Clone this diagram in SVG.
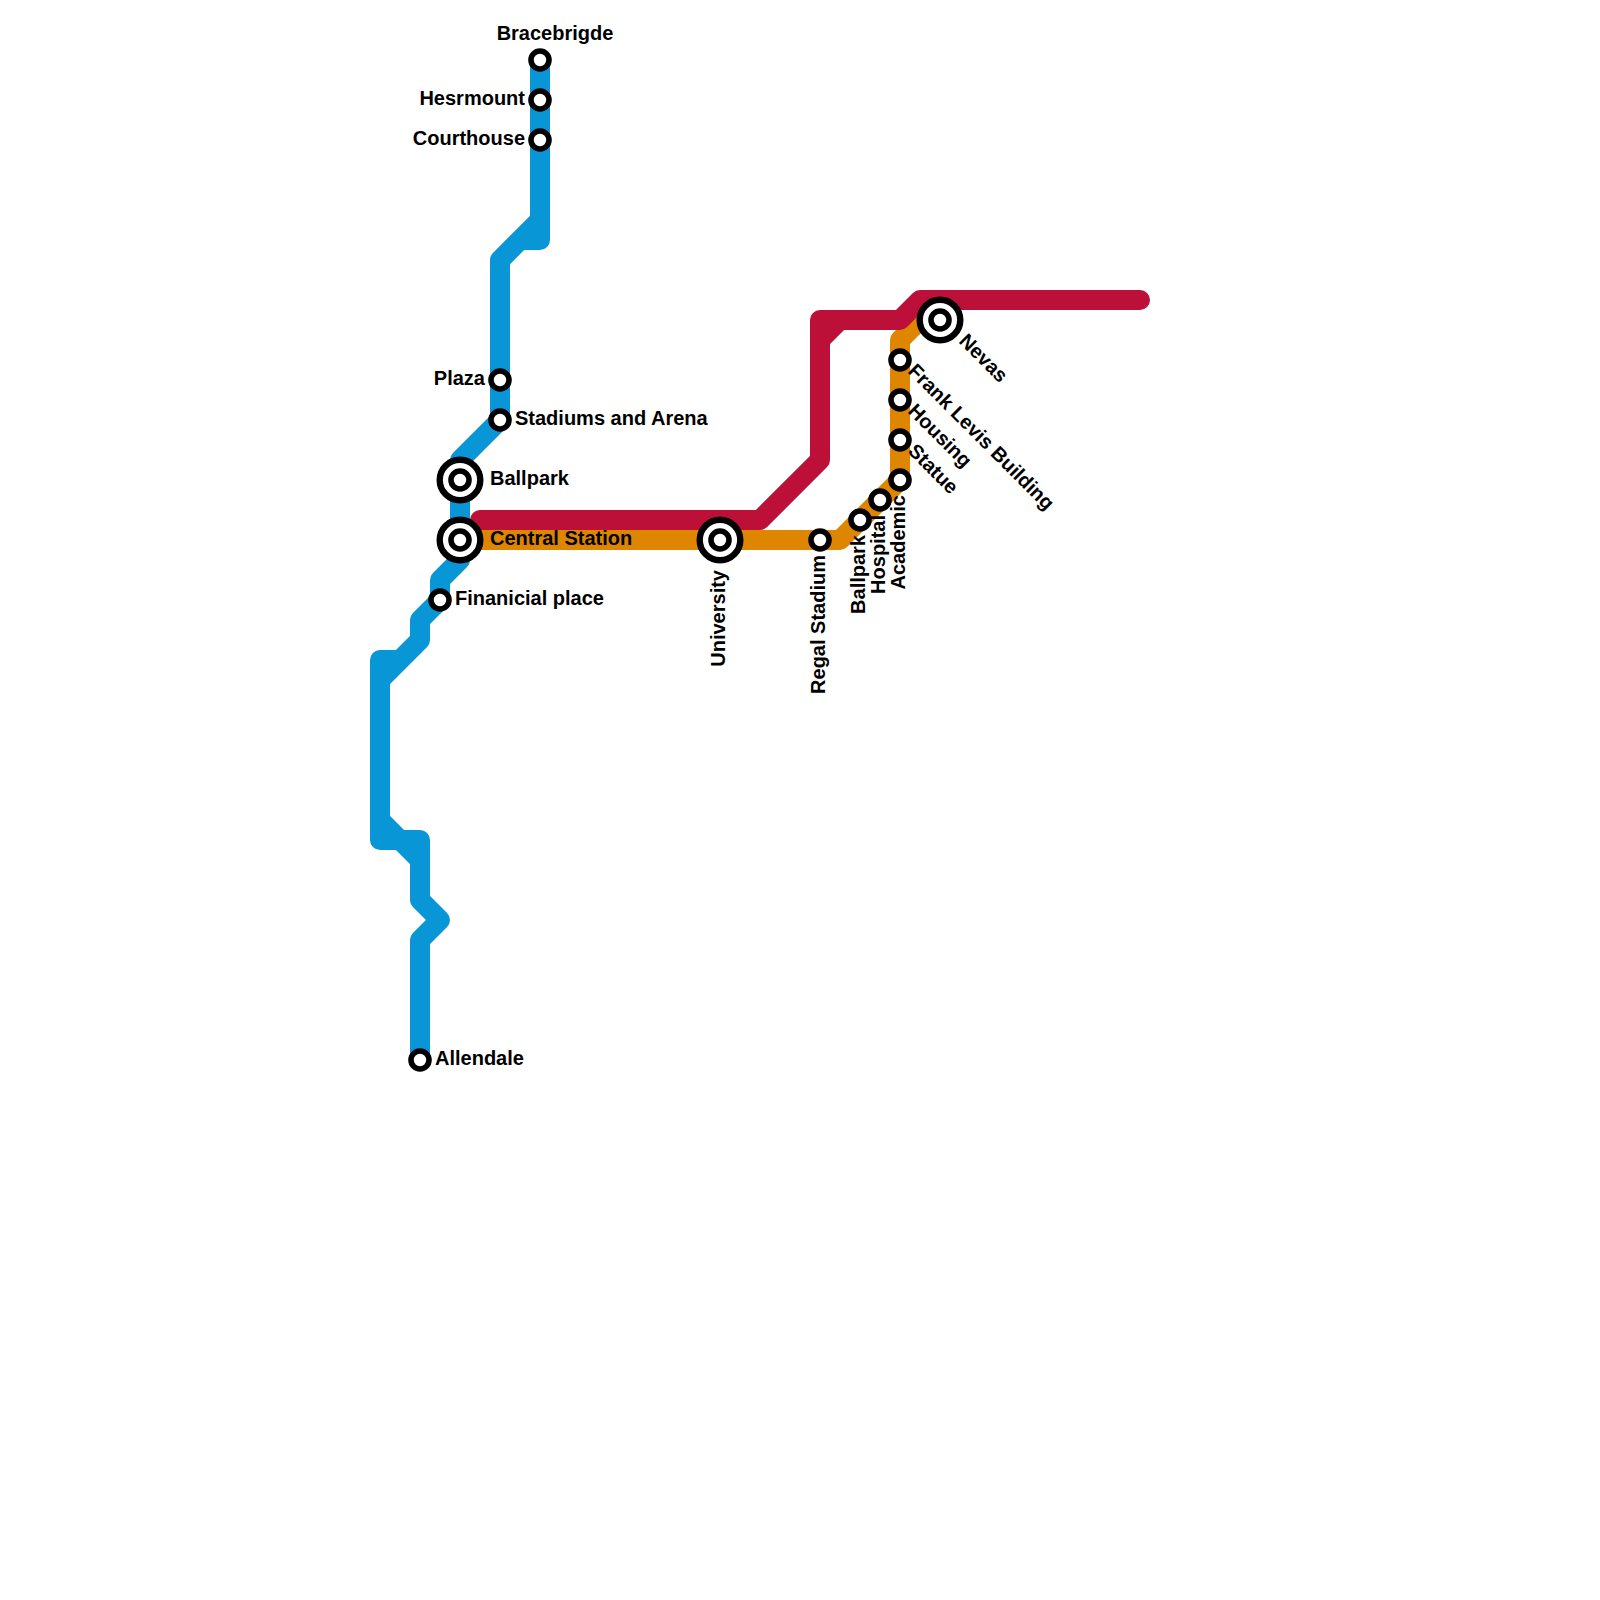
<svg xmlns="http://www.w3.org/2000/svg" width="1600" height="1600" viewBox="0 0 1600 1600">
<style>
.l{fill:none;stroke-width:20;stroke-linecap:round;stroke-linejoin:round}
.b{stroke:#0896d7}.r{stroke:#bd1038}.o{stroke:#df8600}
.s{fill:#fff;stroke:#000;stroke-width:5.6}
.x{fill:#fff;stroke:#000;stroke-width:6.4}
text{font-family:"Liberation Sans",Arial,sans-serif;font-weight:700;font-size:20px;fill:#000}
.e{text-anchor:end}.m{text-anchor:middle}
</style>
<rect width="1600" height="1600" fill="#fff"/>
<g id="connectors">
<path class="l b" d="M540,60V240H520L500,260V420L460,460V560L440,580V600L420,620V640L380,680M380,660H400L420,640M380,660V840H420V900L440,920L420,940V1060M540,220L500,260M380,820L420,860"/>
<path class="l o" d="M460,540H840L900,480V340L920,320H940"/>
<path class="l r" d="M480,520H760L820,460V320H900L920,300H1140M840,320L820,340"/>
</g>
<g id="bracebrigde"><circle class="s" cx="540" cy="60" r="9"/><text class="m" x="555" y="40">Bracebrigde</text></g>
<g id="hesrmount"><circle class="s" cx="540" cy="100" r="9"/><text class="e" x="525" y="105">Hesrmount</text></g>
<g id="courthouse"><circle class="s" cx="540" cy="140" r="9"/><text class="e" x="525" y="145">Courthouse</text></g>
<g id="plaza"><circle class="s" cx="500" cy="380" r="9"/><text class="e" x="485" y="385">Plaza</text></g>
<g id="stadiums"><circle class="s" cx="500" cy="420" r="9"/><text x="515" y="425">Stadiums and Arena</text></g>
<g id="ballpark"><circle class="x" cx="460" cy="480" r="20.3"/><circle class="s" cx="460" cy="480" r="9"/><text x="490" y="485">Ballpark</text></g>
<g id="central"><circle class="x" cx="460" cy="540" r="20.3"/><circle class="s" cx="460" cy="540" r="9"/><text x="490" y="545">Central Station</text></g>
<g id="financial"><circle class="s" cx="440" cy="600" r="9"/><text x="455" y="605">Finanicial place</text></g>
<g id="allendale"><circle class="s" cx="420" cy="1060" r="9"/><text x="435" y="1065">Allendale</text></g>
<g id="university"><circle class="x" cx="720" cy="540" r="20.3"/><circle class="s" cx="720" cy="540" r="9"/><text class="e" transform="translate(725,570) rotate(-90)">University</text></g>
<g id="regal"><circle class="s" cx="820" cy="540" r="9"/><text class="e" transform="translate(825,555) rotate(-90)">Regal Stadium</text></g>
<g id="ballpark2"><circle class="s" cx="860" cy="520" r="9"/><text class="e" transform="translate(865,535) rotate(-90)">Ballpark</text></g>
<g id="hospital"><circle class="s" cx="880" cy="500" r="9"/><text class="e" transform="translate(885,515) rotate(-90)">Hospital</text></g>
<g id="statue"><circle class="s" cx="900" cy="480" r="9"/><text class="e" transform="translate(905,495) rotate(-90)">Academic</text><text transform="translate(907,452) rotate(45)">Statue</text></g>
<g id="housing"><circle class="s" cx="900" cy="440" r="9"/><text transform="translate(907,412) rotate(45)">Housing</text></g>
<g id="frank"><circle class="s" cx="900" cy="400" r="9"/><text transform="translate(907,372) rotate(45)">Frank Levis Building</text></g>
<g id="level"><circle class="s" cx="900" cy="360" r="9"/></g>
<g id="nevas"><circle class="x" cx="940" cy="320" r="20.3"/><circle class="s" cx="940" cy="320" r="9"/><text transform="translate(958,342) rotate(45)">Nevas</text></g>
</svg>
